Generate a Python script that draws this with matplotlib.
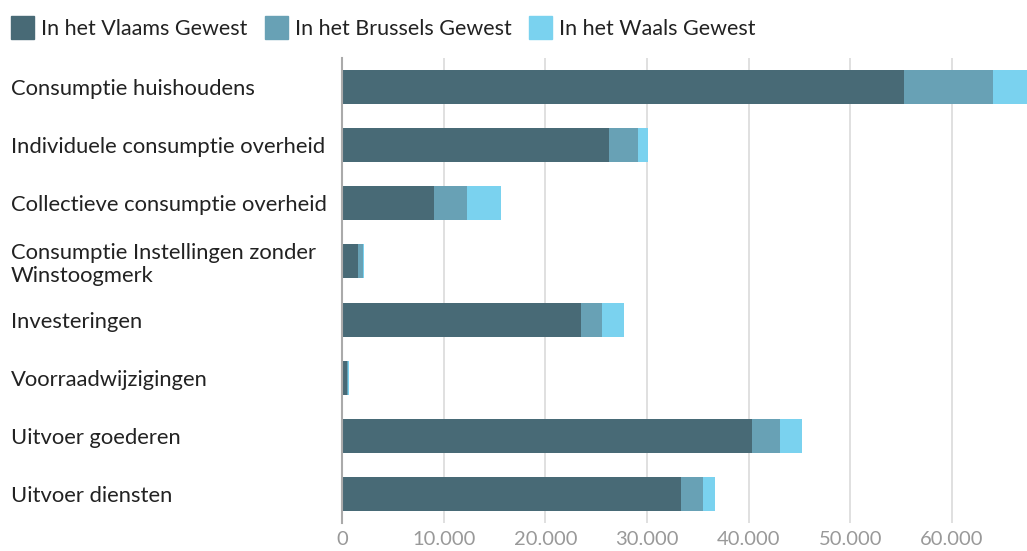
import matplotlib.pyplot as plt
from matplotlib.patches import Patch
from matplotlib.ticker import FuncFormatter

plt.rcParams['font.family'] = ['Lato', 'DejaVu Sans']

categories = ['Consumptie huishoudens', 'Individuele consumptie overheid',
              'Collectieve consumptie overheid',
              'Consumptie Instellingen zonder\nWinstoogmerk', 'Investeringen',
              'Voorraadwijzigingen', 'Uitvoer goederen', 'Uitvoer diensten']
vlaams = [55300, 26300, 9050, 1550, 23500, 450, 40300, 33350]
brussels = [8750, 2850, 3250, 500, 2100, 150, 2750, 2150]
waals = [3350, 1000, 3350, 100, 2150, 100, 2250, 1200]
series_names = ['In het Vlaams Gewest', 'In het Brussels Gewest', 'In het Waals Gewest']
colors = ['#486a76', '#68a1b5', '#7ad2ef']

fig = plt.figure(figsize=(10.27, 5.51), dpi=100)
ax = fig.add_axes([342 / 1027, 1 - 523 / 551, 1 - 342 / 1027, 465 / 551])

y = range(len(categories))
left = [0] * len(categories)
for vals, c in zip([vlaams, brussels, waals], colors):
    ax.barh(y, vals, left=left, color=c, height=0.585, zorder=3)
    left = [l + v for l, v in zip(left, vals)]

ax.set_ylim(len(categories) - 0.5, -0.5)
ax.set_xlim(0, max(left))
ax.set_xticks([0, 10000, 20000, 30000, 40000, 50000, 60000])
ax.xaxis.set_major_formatter(FuncFormatter(lambda v, p: f'{int(v):,}'.replace(',', '.')))
ax.grid(axis='x', color='#dddddd', linewidth=1.3, zorder=0)
for s in ['top', 'right', 'bottom']:
    ax.spines[s].set_visible(False)
ax.spines['left'].set_color('#aaaaaa')
ax.spines['left'].set_linewidth(1.5)
ax.spines['left'].set_zorder(4)

ax.set_yticks(list(y))
ax.set_yticklabels(categories, fontsize=15.8, color='#222222', ha='left',
                   linespacing=1.15)
ax.tick_params(axis='y', length=0, pad=331 * 0.72)
ax.tick_params(axis='x', length=0, labelsize=14.5, labelcolor='#999999', pad=6)

handles = [Patch(color=c) for c in colors]
fig.legend(handles, series_names, loc='upper left', bbox_to_anchor=(0.0, 0.99),
           ncol=3, frameon=False, fontsize=15.5, handlelength=1.1, handleheight=1.25,
           handletextpad=0.3, columnspacing=0.8, borderaxespad=0.1,
           labelcolor='#222222')

fig.savefig('out.png', dpi=100)
